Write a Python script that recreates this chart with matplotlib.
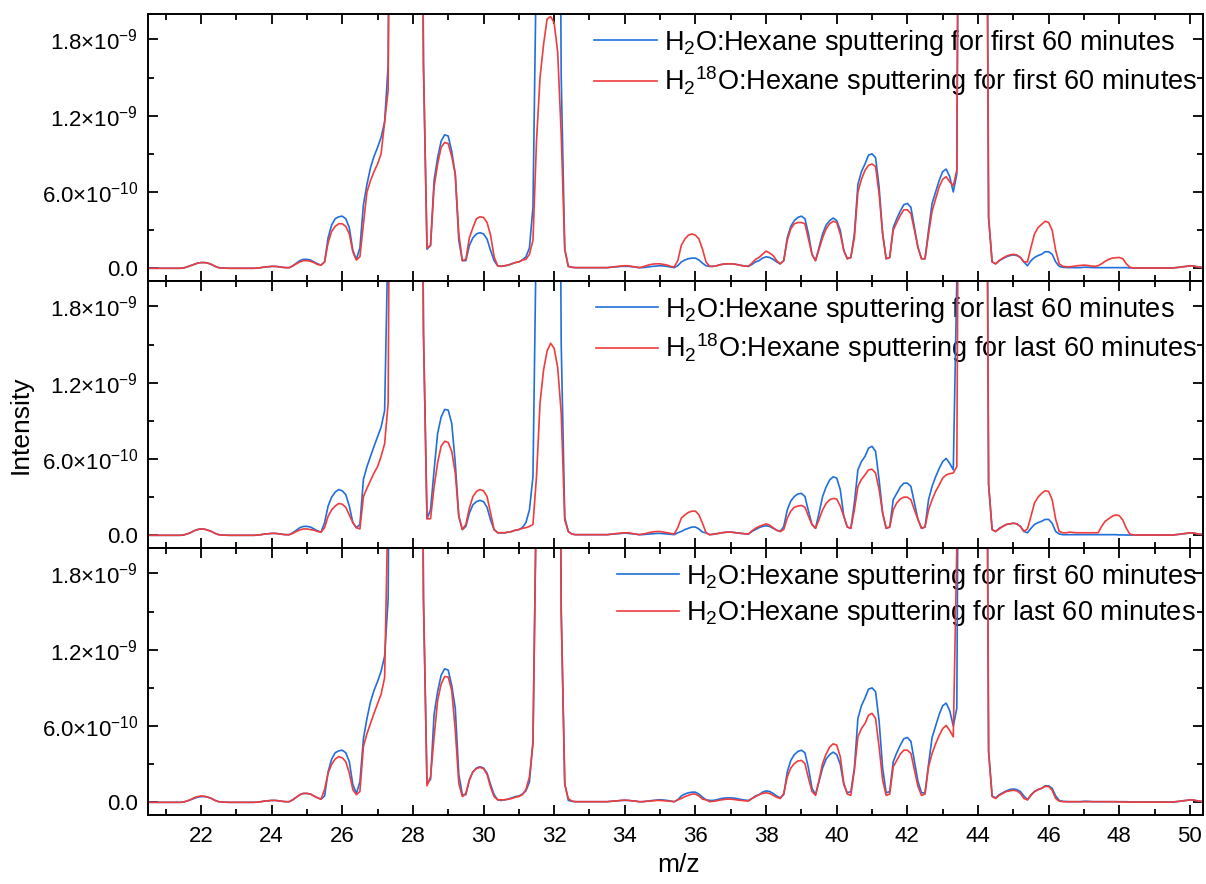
import numpy as np
import matplotlib
matplotlib.use('Agg')
import matplotlib.pyplot as plt
from matplotlib.ticker import MultipleLocator

plt.rcParams['font.family'] = ['Liberation Sans', 'DejaVu Sans']
plt.rcParams['mathtext.fontset'] = 'custom'
plt.rcParams['mathtext.rm'] = 'Liberation Sans'
plt.rcParams['mathtext.it'] = 'Liberation Sans:italic'
plt.rcParams['mathtext.bf'] = 'Liberation Sans:bold'

# m/z scan grid, 0.1 amu steps (20.0 ... 50.4)
mz = np.round(np.arange(200, 505) / 10, 1)

# intensities in units of 1e-10 (values above 20 are off scale)
h2o_first = [
    0, 0, 0, 0, 0, 0, 0, 0, 0, 0,
    0, 0, 0, 0, 0, 0.02, 0.1, 0.2, 0.3, 0.4,
    0.45, 0.45, 0.4, 0.3, 0.15, 0.05, 0.02, 0.01, 0, 0,
    0, 0, 0, 0, 0, 0, 0.02, 0.05, 0.1, 0.12,
    0.15, 0.15, 0.12, 0.08, 0.05, 0.05, 0.2, 0.4, 0.6, 0.7,
    0.7, 0.65, 0.5, 0.35, 0.25, 0.5, 2.4, 3.4, 3.9, 4.05,
    4.1, 3.9, 3.2, 1.4, 0.7, 1.6, 5.0, 6.6, 7.9, 8.8,
    9.5, 10.3, 11.5, 16, 60, 60, 60, 60, 60, 60,
    60, 60, 60, 16, 1.5, 1.8, 6.9, 8.7, 10.0, 10.5,
    10.4, 9.2, 7.4, 2.2, 0.6, 0.6, 1.8, 2.4, 2.7, 2.8,
    2.7, 2.3, 1.4, 0.6, 0.2, 0.15, 0.2, 0.25, 0.35, 0.45,
    0.5, 0.65, 0.9, 1.6, 4.8, 25, 60, 60, 60, 60,
    60, 60, 15, 1.5, 0.15, 0.08, 0.05, 0.05, 0.05, 0.05,
    0.05, 0.05, 0.05, 0.05, 0.05, 0.05, 0.08, 0.1, 0.12, 0.15,
    0.15, 0.15, 0.12, 0.1, 0.05, 0.05, 0.08, 0.12, 0.15, 0.18,
    0.2, 0.18, 0.15, 0.1, 0.05, 0.2, 0.5, 0.65, 0.75, 0.8,
    0.8, 0.65, 0.4, 0.2, 0.15, 0.15, 0.2, 0.28, 0.33, 0.35,
    0.35, 0.33, 0.28, 0.22, 0.18, 0.15, 0.3, 0.5, 0.6, 0.8,
    0.9, 0.85, 0.7, 0.5, 0.35, 0.6, 2.4, 3.3, 3.75, 4.0,
    4.1, 3.9, 2.7, 1.1, 0.6, 1.65, 2.7, 3.4, 3.75, 3.95,
    3.75, 3.0, 1.4, 0.75, 0.85, 2.7, 6.6, 7.6, 8.2, 8.9,
    9.0, 8.7, 6.4, 2.7, 0.75, 0.85, 3.2, 3.9, 4.5, 5.0,
    5.1, 4.8, 3.2, 1.65, 0.75, 0.75, 3.0, 5.1, 6.0, 6.9,
    7.6, 7.8, 7.2, 6.0, 7.4, 60, 60, 60, 60, 60,
    60, 60, 60, 4, 0.5, 0.35, 0.6, 0.75, 0.9, 1.0,
    1.05, 1.0, 0.85, 0.5, 0.2, 0.6, 0.85, 1.0, 1.1, 1.3,
    1.3, 1.1, 0.5, 0.15, 0.08, 0.06, 0.05, 0.05, 0.05, 0.05,
    0.08, 0.08, 0.06, 0.05, 0.05, 0.05, 0.05, 0.05, 0.05, 0.05,
    0.05, 0.05, 0.05, 0.03, 0.02, 0.02, 0.02, 0.02, 0.02, 0.02,
    0.02, 0.02, 0.02, 0.02, 0.02, 0.02, 0.05, 0.08, 0.12, 0.15,
    0.2, 0.18, 0.12, 0.08, 0.05,
]

h218o_first = [
    0, 0, 0, 0, 0, 0, 0, 0, 0, 0,
    0, 0, 0, 0, 0, 0.02, 0.1, 0.2, 0.3, 0.4,
    0.45, 0.45, 0.4, 0.3, 0.15, 0.05, 0.02, 0.01, 0, 0,
    0, 0, 0, 0, 0, 0, 0.02, 0.05, 0.1, 0.12,
    0.15, 0.15, 0.12, 0.08, 0.05, 0.05, 0.18, 0.35, 0.5, 0.6,
    0.6, 0.55, 0.45, 0.3, 0.25, 0.5, 2.0, 2.9, 3.3, 3.5,
    3.5, 3.3, 2.7, 1.3, 0.65, 0.9, 3.5, 6.0, 6.9, 7.6,
    8.2, 9.0, 11.5, 14, 60, 60, 60, 60, 60, 60,
    60, 60, 60, 16, 1.6, 1.8, 6.4, 8.2, 9.5, 9.9,
    9.8, 8.8, 7.4, 2.7, 0.6, 0.7, 2.4, 3.2, 3.9, 4.05,
    4.0, 3.6, 2.6, 0.9, 0.2, 0.15, 0.2, 0.25, 0.35, 0.45,
    0.5, 0.65, 0.7, 1.1, 2.2, 10, 15, 17.6, 19.6, 19.8,
    19.3, 17, 10.5, 1.5, 0.15, 0.08, 0.05, 0.05, 0.05, 0.05,
    0.05, 0.05, 0.05, 0.05, 0.05, 0.05, 0.08, 0.12, 0.15, 0.18,
    0.2, 0.2, 0.15, 0.1, 0.05, 0.1, 0.2, 0.28, 0.33, 0.35,
    0.35, 0.3, 0.25, 0.15, 0.1, 0.6, 1.8, 2.3, 2.6, 2.7,
    2.6, 2.3, 1.5, 0.5, 0.15, 0.15, 0.2, 0.28, 0.33, 0.35,
    0.35, 0.33, 0.28, 0.22, 0.18, 0.15, 0.4, 0.7, 0.85, 1.1,
    1.35, 1.2, 1.0, 0.6, 0.35, 0.6, 2.2, 3.1, 3.5, 3.6,
    3.6, 3.5, 2.3, 1.1, 0.6, 1.5, 2.4, 3.1, 3.5, 3.7,
    3.6, 2.7, 1.4, 0.75, 0.85, 2.4, 6.0, 7.0, 7.7, 8.1,
    8.2, 8.0, 5.85, 2.7, 0.75, 0.85, 3.0, 3.6, 4.15, 4.6,
    4.6, 4.3, 3.0, 1.65, 0.75, 0.75, 2.7, 4.5, 5.45, 6.4,
    7.0, 7.2, 6.8, 6.5, 7.7, 60, 60, 60, 60, 60,
    60, 60, 60, 4, 0.5, 0.35, 0.6, 0.8, 0.95, 1.05,
    1.1, 1.05, 0.85, 0.5, 0.5, 1.65, 2.7, 3.2, 3.45, 3.7,
    3.6, 3.0, 1.4, 0.35, 0.15, 0.12, 0.12, 0.15, 0.2, 0.22,
    0.25, 0.22, 0.18, 0.15, 0.2, 0.35, 0.55, 0.7, 0.8, 0.83,
    0.85, 0.75, 0.35, 0.08, 0.03, 0.02, 0.02, 0.02, 0.02, 0.02,
    0.02, 0.02, 0.02, 0.02, 0.02, 0.02, 0.05, 0.08, 0.12, 0.15,
    0.2, 0.18, 0.12, 0.08, 0.05,
]

h2o_last = [
    0, 0, 0, 0, 0, 0, 0, 0, 0, 0,
    0, 0, 0, 0, 0, 0.02, 0.1, 0.2, 0.35, 0.45,
    0.5, 0.48, 0.4, 0.3, 0.15, 0.05, 0.02, 0.01, 0, 0,
    0, 0, 0, 0, 0, 0, 0.02, 0.05, 0.1, 0.12,
    0.15, 0.15, 0.12, 0.08, 0.05, 0.05, 0.2, 0.4, 0.6, 0.7,
    0.7, 0.65, 0.5, 0.35, 0.25, 1.0, 2.3, 3.0, 3.4, 3.6,
    3.5, 3.2, 2.3, 1.0, 0.6, 0.85, 4.4, 5.4, 6.2, 7.0,
    7.75, 8.5, 9.8, 24, 60, 60, 60, 60, 60, 60,
    60, 60, 60, 16, 1.3, 2.0, 5.1, 8.0, 9.3, 9.9,
    9.85, 8.8, 5.7, 1.5, 0.45, 0.7, 1.75, 2.4, 2.65, 2.75,
    2.65, 2.2, 1.2, 0.45, 0.2, 0.2, 0.2, 0.25, 0.3, 0.4,
    0.45, 0.6, 1.0, 2.0, 4.6, 25, 60, 60, 60, 60,
    60, 60, 15, 1.4, 0.3, 0.1, 0.05, 0.05, 0.05, 0.05,
    0.05, 0.05, 0.05, 0.05, 0.05, 0.05, 0.08, 0.1, 0.12, 0.15,
    0.18, 0.15, 0.12, 0.1, 0.05, 0.05, 0.08, 0.1, 0.12, 0.15,
    0.15, 0.13, 0.1, 0.08, 0.05, 0.2, 0.3, 0.45, 0.55, 0.65,
    0.65, 0.5, 0.25, 0.2, 0.05, 0.08, 0.12, 0.18, 0.22, 0.25,
    0.25, 0.22, 0.18, 0.15, 0.12, 0.1, 0.3, 0.45, 0.6, 0.7,
    0.75, 0.7, 0.55, 0.4, 0.3, 0.7, 2.0, 2.7, 3.05, 3.25,
    3.3, 3.05, 1.9, 0.85, 0.55, 1.75, 3.05, 3.8, 4.35, 4.6,
    4.5, 3.6, 1.5, 0.65, 0.55, 2.55, 5.15, 5.8, 6.2, 6.85,
    7.0, 6.6, 4.35, 1.75, 0.55, 0.65, 2.8, 3.3, 3.8, 4.1,
    4.1, 3.85, 2.55, 1.25, 0.55, 0.65, 2.8, 3.85, 4.6, 5.25,
    5.8, 6.05, 5.65, 5.15, 20, 60, 60, 60, 60, 60,
    60, 60, 60, 4, 0.45, 0.3, 0.55, 0.7, 0.85, 0.9,
    0.95, 0.9, 0.7, 0.3, 0.2, 0.55, 0.85, 1.0, 1.1, 1.25,
    1.25, 0.95, 0.3, 0.1, 0.05, 0.05, 0.05, 0.05, 0.05, 0.05,
    0.05, 0.05, 0.05, 0.05, 0.05, 0.05, 0.05, 0.05, 0.05, 0.05,
    0.03, 0.03, 0.02, 0.02, 0.02, 0.02, 0.02, 0.02, 0.02, 0.02,
    0.02, 0.02, 0.02, 0.02, 0.02, 0.02, 0.05, 0.08, 0.12, 0.15,
    0.2, 0.18, 0.12, 0.08, 0.05,
]

h218o_last = [
    0, 0, 0, 0, 0, 0, 0, 0, 0, 0,
    0, 0, 0, 0, 0, 0.02, 0.1, 0.2, 0.35, 0.45,
    0.5, 0.48, 0.4, 0.3, 0.15, 0.05, 0.02, 0.01, 0, 0,
    0, 0, 0, 0, 0, 0, 0.02, 0.05, 0.1, 0.12,
    0.15, 0.15, 0.12, 0.08, 0.05, 0.05, 0.15, 0.3, 0.42, 0.5,
    0.5, 0.45, 0.4, 0.3, 0.25, 0.6, 1.5, 2.0, 2.3, 2.5,
    2.45, 2.2, 1.6, 1.0, 0.6, 0.5, 3.05, 3.7, 4.3, 4.9,
    5.4, 6.2, 7.2, 10.4, 60, 60, 60, 60, 60, 60,
    60, 60, 60, 16, 1.3, 1.3, 3.8, 5.7, 7.0, 7.4,
    7.3, 6.6, 4.9, 1.5, 0.45, 0.85, 2.15, 3.05, 3.45, 3.6,
    3.5, 3.05, 1.75, 0.45, 0.2, 0.2, 0.2, 0.25, 0.3, 0.4,
    0.45, 0.55, 0.6, 0.7, 0.85, 4.6, 10.4, 13.0, 14.5, 15.1,
    14.7, 13.2, 9.6, 1.2, 0.3, 0.1, 0.05, 0.05, 0.05, 0.05,
    0.05, 0.05, 0.05, 0.05, 0.05, 0.05, 0.08, 0.12, 0.15, 0.18,
    0.2, 0.2, 0.15, 0.1, 0.05, 0.1, 0.15, 0.22, 0.27, 0.3,
    0.3, 0.25, 0.2, 0.15, 0.1, 0.6, 1.35, 1.6, 1.8, 1.9,
    1.9, 1.6, 0.95, 0.2, 0.05, 0.08, 0.12, 0.18, 0.22, 0.25,
    0.25, 0.22, 0.18, 0.15, 0.12, 0.1, 0.35, 0.55, 0.7, 0.8,
    0.9, 0.8, 0.6, 0.4, 0.3, 0.45, 1.35, 1.9, 2.2, 2.3,
    2.35, 2.2, 1.5, 0.85, 0.55, 1.25, 2.0, 2.5, 2.8, 2.9,
    2.85, 2.3, 1.5, 0.65, 0.55, 2.0, 3.85, 4.4, 4.75, 5.15,
    5.2, 4.9, 3.6, 1.75, 0.55, 0.65, 2.0, 2.55, 2.85, 3.0,
    3.0, 2.8, 2.0, 1.25, 0.55, 0.65, 2.0, 2.8, 3.45, 3.95,
    4.5, 4.75, 4.85, 4.9, 5.4, 60, 60, 60, 60, 60,
    60, 60, 60, 4, 0.45, 0.3, 0.5, 0.7, 0.85, 0.9,
    0.95, 0.9, 0.7, 0.3, 0.5, 1.5, 2.55, 3.0, 3.3, 3.5,
    3.45, 2.8, 1.25, 0.3, 0.2, 0.2, 0.25, 0.22, 0.2, 0.2,
    0.2, 0.2, 0.2, 0.2, 0.2, 0.7, 1.1, 1.3, 1.5, 1.6,
    1.55, 1.2, 0.55, 0.1, 0.03, 0.02, 0.02, 0.02, 0.02, 0.02,
    0.02, 0.02, 0.02, 0.02, 0.02, 0.02, 0.05, 0.08, 0.12, 0.15,
    0.2, 0.18, 0.12, 0.08, 0.05,
]

ytick_vals = [0, 6e-10, 1.2e-9, 1.8e-9]
ytick_labels = ['0.0', r'$\mathregular{6.0{\times}10^{-10}}$',
                r'$\mathregular{1.2{\times}10^{-9}}$', r'$\mathregular{1.8{\times}10^{-9}}$']

H2O = r'$\mathregular{H_2O}$'
H218O = r'$\mathregular{H_2{}^{18}O}$'
panels = [
    (h2o_first, h218o_first,
     H2O + ':Hexane sputtering for first 60 minutes',
     H218O + ':Hexane sputtering for first 60 minutes'),
    (h2o_last, h218o_last,
     H2O + ':Hexane sputtering for last 60 minutes',
     H218O + ':Hexane sputtering for last 60 minutes'),
    (h2o_first, h2o_last,
     H2O + ':Hexane sputtering for first 60 minutes',
     H2O + ':Hexane sputtering for last 60 minutes'),
]

blue = '#1f6fdc'
red = '#f03c3c'

fig, axes = plt.subplots(3, 1, figsize=(12.06, 8.84), dpi=100, sharex=True)
fig.subplots_adjust(left=0.1227, right=0.9975, top=0.9842, bottom=0.078, hspace=0)

for ax, (s1, s2, lab1, lab2) in zip(axes, panels):
    ax.plot(mz, np.array(s1) * 1e-10, color=blue, lw=1.2, label=lab1)
    ax.plot(mz, np.array(s2) * 1e-10, color=red, lw=1.2, label=lab2)
    ax.set_xlim(20.5, 50.37)
    ax.set_ylim(-1.0e-10, 2.0e-9)
    ax.set_yticks(ytick_vals)
    ax.set_yticklabels(ytick_labels)
    ax.yaxis.set_minor_locator(MultipleLocator(3e-10))
    ax.xaxis.set_major_locator(MultipleLocator(2))
    ax.xaxis.set_minor_locator(MultipleLocator(1))
    ax.tick_params(which='both', direction='in', top=True, right=True, width=1.3,
                   labelsize=16)
    ax.tick_params(which='major', length=7)
    ax.tick_params(which='minor', length=4)
    ax.tick_params(axis='y', pad=7)
    ax.tick_params(axis='x', pad=8)
    for sp in ax.spines.values():
        sp.set_linewidth(1.4)
    leg = ax.legend(loc='upper right', bbox_to_anchor=(1.007, 1.0), frameon=False,
                    fontsize=19.5, handlelength=2.3, handletextpad=0.25,
                    labelspacing=0.25, borderaxespad=0.1, borderpad=0.4)
    leg.set_zorder(1)

axes[2].set_xticks(np.arange(22, 51, 2))
fig.text(0.017, 0.52, 'Intensity', rotation=90, ha='center', va='center', fontsize=19)
fig.text(0.563, 0.021, 'm/z', ha='center', va='center', fontsize=19)

fig.savefig('out.png', dpi=100)
